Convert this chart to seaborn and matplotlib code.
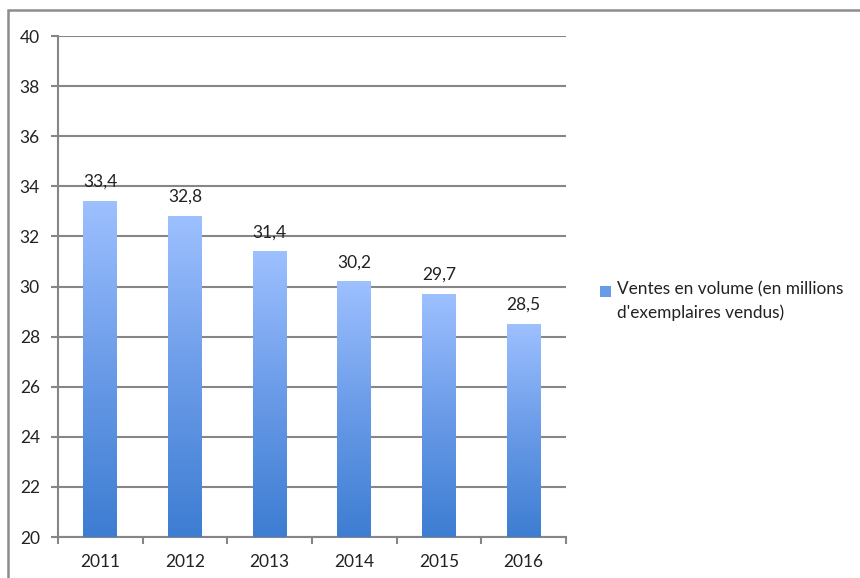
import numpy as np
import pandas as pd
import matplotlib
matplotlib.use("Agg")
import matplotlib.pyplot as plt
import seaborn as sns
from matplotlib.colors import LinearSegmentedColormap
from matplotlib.patches import Patch, Rectangle

sns.set_style("white")
plt.rcParams['font.family'] = ['Lato', 'DejaVu Sans']

annees = ['2011', '2012', '2013', '2014', '2015', '2016']
ventes = [33.4, 32.8, 31.4, 30.2, 29.7, 28.5]
etiquettes = ['33,4', '32,8', '31,4', '30,2', '29,7', '28,5']
legende = "Ventes en volume (en millions\nd'exemplaires vendus)"

df = pd.DataFrame({'annee': annees, 'ventes': ventes})

gris = '#868686'
fig = plt.figure(figsize=(8.6, 5.78), dpi=100)
ax = fig.add_axes([0.0674, 0.0709, 0.5907, 0.8668])

sns.barplot(x='annee', y='ventes', data=df, width=0.4, color='#5b8fe0', ax=ax, zorder=3)
ax.set_ylim(20, 40)
ax.set_yticks(np.arange(20, 41, 2))
ax.set_xlabel('')
ax.set_ylabel('')

# degrade vertical dans chaque barre
cmap = LinearSegmentedColormap.from_list('bleu', ['#3d7dd2', '#6a9be8', '#9dc0ff'])
grad = np.linspace(0, 1, 256).reshape(-1, 1)
for bar in ax.patches:
    x0, y0 = bar.get_x(), 20
    x1, y1 = x0 + bar.get_width(), bar.get_height()
    bar.set_facecolor('none')
    bar.set_edgecolor('none')
    ax.imshow(grad, extent=[x0, x1, y0, y1], origin='lower', cmap=cmap,
              aspect='auto', zorder=3)
ax.set_xlim(-0.5, len(annees) - 0.5)

for i, (v, t) in enumerate(zip(ventes, etiquettes)):
    ax.text(i, v + 0.45, t, ha='center', va='bottom', fontsize=12.5, color='#222222', zorder=4)

# grille et axes facon Excel
ax.grid(axis='y', color=gris, linewidth=1.5, zorder=0)
for s in ['top', 'right']:
    ax.spines[s].set_visible(False)
for s in ['left', 'bottom']:
    ax.spines[s].set_color(gris)
    ax.spines[s].set_linewidth(1.5)
ax.tick_params(axis='y', length=5, width=1.5, color=gris, labelsize=12.5, pad=8, left=True)
ax.set_xticks(np.arange(-0.5, len(annees), 1), minor=True)
ax.tick_params(axis='x', which='major', length=0, labelsize=12.5, pad=12)
ax.tick_params(axis='x', which='minor', length=5, width=1.5, color=gris, bottom=True)
for lab in ax.get_xticklabels() + ax.get_yticklabels():
    lab.set_color('#222222')

handles = [Patch(facecolor='#6a9be8', edgecolor='none')]
leg = fig.legend(handles, [legende], loc='center left', bbox_to_anchor=(0.68, 0.479),
                 frameon=False, fontsize=12.4, handlelength=0.6, handleheight=0.6,
                 handletextpad=0.35)
for t in leg.get_texts():
    t.set_linespacing(1.5)
    t.set_color('#222222')
leg.legend_handles[0].set_y(8)

# cadre exterieur
fig.patches.append(Rectangle((0.0093, -0.2), 2, 1.182, transform=fig.transFigure,
                             fill=False, edgecolor='#8c8c8c', linewidth=1.8))

fig.savefig('out.png', dpi=100)
